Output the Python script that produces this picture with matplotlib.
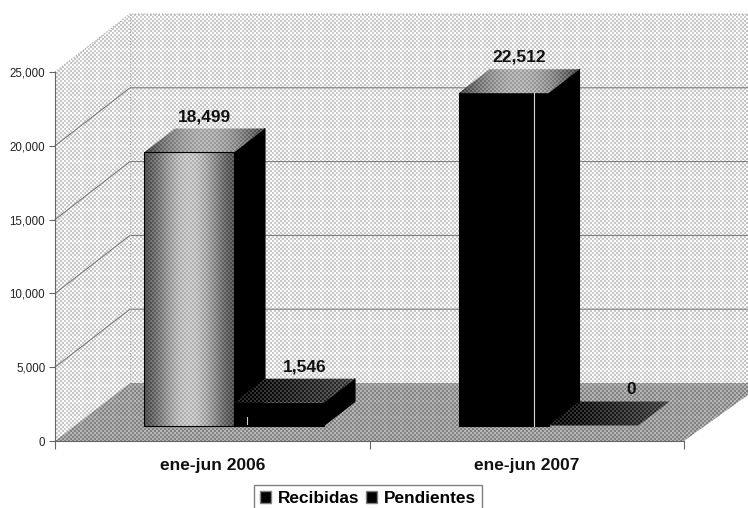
import numpy as np
import matplotlib
matplotlib.use('Agg')
import matplotlib.pyplot as plt
from matplotlib.patches import Patch, Polygon

categories = ['ene-jun 2006', 'ene-jun 2007']
series_names = ['Recibidas', 'Pendientes']
recibidas = [18499, 22512]
pendientes = [1546, 0]
value_ticks = [0, 5000, 10000, 15000, 20000, 25000]

W, H = 748, 508
PX_X = 314.5          # pixels per category
PX_Y = 369 / 25000    # pixels per unit of value

plt.rcParams['font.family'] = ['Liberation Sans', 'DejaVu Sans']

fig = plt.figure(figsize=(W / 100, H / 100), dpi=100)
ax = fig.add_axes([55 / W, (H - 441) / H, 2 * PX_X / W, 369 / H])
ax.set_xlim(0, 2)
ax.set_ylim(0, 25000)
ax.patch.set_visible(False)

# pixel grid of the whole figure, for the halftone fills
X, Y = np.meshgrid(np.arange(W), np.arange(H))
checker = ((X // 2 + Y // 2) % 2) * 2 - 1
lattice = ((X % 16 < 3) | (Y % 16 < 3)).astype(float)


def px(dx, dy):
    '''Pixel offsets to data offsets'''
    return dx / PX_X, dy / PX_Y


def halftone(poly, level, amp, zorder):
    '''Fill a polygon (data coords) with a dithered grey image'''
    grey = np.clip(level + amp * checker, 0, 1)
    corners = ax.transData.inverted().transform([(0, 0), (W, H)])
    extent = (corners[0][0], corners[1][0], corners[0][1], corners[1][1])
    im = ax.imshow(grey, cmap='gray', vmin=0, vmax=1, extent=extent,
                   origin='upper', aspect='auto', interpolation='nearest',
                   zorder=zorder)
    im.set_clip_box(fig.bbox)
    im.set_clip_path(Polygon(poly, closed=True, transform=ax.transData))
    ax.set_xlim(0, 2)
    ax.set_ylim(0, 25000)


def flat(poly, color, zorder):
    ax.add_patch(Polygon(poly, closed=True, fc=color, ec='black', lw=0.8,
                         clip_on=False, zorder=zorder))


def across(poly):
    '''0..1 position across the pixel width of a polygon'''
    xs = ax.transData.transform(poly)[:, 0]
    return np.clip((X - xs.min()) / (xs.max() - xs.min()), 0, 1)


# walls and floor
wall_dx, wall_dy = px(75, 58)
right = (W - 55) / PX_X
top = 25000
wall_left = [(0, 0), (wall_dx, wall_dy), (wall_dx, top + wall_dy), (0, top)]
wall_back = [(wall_dx, wall_dy), (right, wall_dy),
             (right, top + wall_dy), (wall_dx, top + wall_dy)]
floor = [(0, 0), (2, 0), (right, px(0, 46)[1]), (right, wall_dy), (wall_dx, wall_dy)]
halftone(wall_left, 0.87 + 0.03 * lattice, 0.10, 1)
halftone(wall_back, 0.87 + 0.03 * lattice, 0.10, 1)
halftone(floor, 0.60 + 0.02 * lattice, 0.10, 2)

for v in value_ticks[1:-1]:
    ax.plot([0, wall_dx, right], [v, v + wall_dy, v + wall_dy], color='0.45', lw=0.7,
            clip_on=False, zorder=1.5)
ax.plot([0, wall_dx, right], [top, top + wall_dy, top + wall_dy], color='0.65', lw=0.8, ls=':',
        clip_on=False, zorder=1.5)
ax.plot([wall_dx, wall_dx], [wall_dy, top + wall_dy], color='0.65', lw=0.8, ls=':',
        clip_on=False, zorder=1.5)

# bars
gap = 89 / PX_X
bar_w = 90 / PX_X
base_y = px(0, 15.5)[1]
depth_x, depth_y = px(31, 24)
# the Pendientes labels sit right of their bar centre in the original
label_shift = {'pending': [10, 22]}


def bar(i, x, value, kind, z):
    y0 = base_y
    y1 = base_y + value
    front = [(x, y0), (x + bar_w, y0), (x + bar_w, y1), (x, y1)]
    side = [(x + bar_w, y0), (x + bar_w + depth_x, y0 + depth_y),
            (x + bar_w + depth_x, y1 + depth_y), (x + bar_w, y1)]
    roof = [(x, y1), (x + bar_w, y1), (x + bar_w + depth_x, y1 + depth_y),
            (x + depth_x, y1 + depth_y)]
    t = across(roof)
    if value > 0:
        flat(side, 'black', z)
    if kind == 'cylinder':
        flat(front, 'none', z + 0.2)
        halftone(front, 0.34 + 0.42 * np.sin(np.pi * across(front)) ** 1.5, 0.07, z + 0.1)
    elif value > 0:
        flat(front, 'black', z)
    if kind == 'pending':
        halftone(roof, 0.06 + 0.24 * t, 0.10, z + 0.1)
        shift = label_shift['pending'][i]
    else:
        halftone(roof, 0.28 + 0.40 * np.sin(np.pi * t), 0.07, z + 0.1)
        shift = 0
    label = f'{value:,}'
    ax.annotate(label, (x + (bar_w + depth_x) / 2, y1 + depth_y),
                xytext=(shift * 0.72, 3.2), textcoords='offset points', ha='center', va='bottom',
                fontsize=12.5, fontweight='bold', color='#111111',
                annotation_clip=False, zorder=20)


for i in range(len(categories)):
    x_rec = i + gap
    x_pen = x_rec + bar_w
    bar(i, x_rec, recibidas[i], 'cylinder' if i == 0 else 'solid', 5)
    bar(i, x_pen, pendientes[i], 'pending', 6)

    # thin white highlight inside the black front faces
    if i == 0:
        ax.plot([x_pen + 13 / PX_X] * 2, [base_y + 2 / PX_Y, base_y + 9 / PX_Y],
                color='0.8', lw=0.8, zorder=7, clip_on=False)
    else:
        ax.plot([x_rec + 75 / PX_X] * 2, [base_y, base_y + recibidas[i]],
                color='0.85', lw=0.8, zorder=7, clip_on=False)

# axes
for name in ['top', 'right']:
    ax.spines[name].set_visible(False)
for name in ['left', 'bottom']:
    ax.spines[name].set_color('0.4')
    ax.spines[name].set_linewidth(0.8)
    ax.spines[name].set_zorder(3)
ax.set_yticks(value_ticks)
ax.set_yticklabels([f'{v:,}' for v in value_ticks], fontsize=8.3, color='#222222')
ax.set_xticks([0, 1, 2])
ax.set_xticklabels([])
ax.set_xticks([0.5, 1.5], labels=categories, minor=True, fontsize=12.5, fontweight='bold',
              color='#111111')
ax.tick_params(axis='y', length=4, width=0.8, color='0.4', pad=3)
ax.tick_params(axis='x', which='major', length=6, width=0.8, color='0.4')
ax.tick_params(axis='x', which='minor', length=0, pad=12.5)

handles = [Patch(fc='black', ec='0.5', lw=1, label=n) for n in series_names]
ax.legend(handles=handles, ncol=2, loc='upper left', bbox_to_anchor=(254 / W, (H - 485) / H),
          bbox_transform=fig.transFigure, frameon=True, fancybox=False,
          edgecolor='0.5', framealpha=1, handlelength=0.64, handleheight=0.64,
          handletextpad=0.4, columnspacing=0.35, borderpad=0.36, borderaxespad=0,
          prop={'weight': 'bold', 'size': 12.4})

fig.savefig('out.png', dpi=100, facecolor='white')
